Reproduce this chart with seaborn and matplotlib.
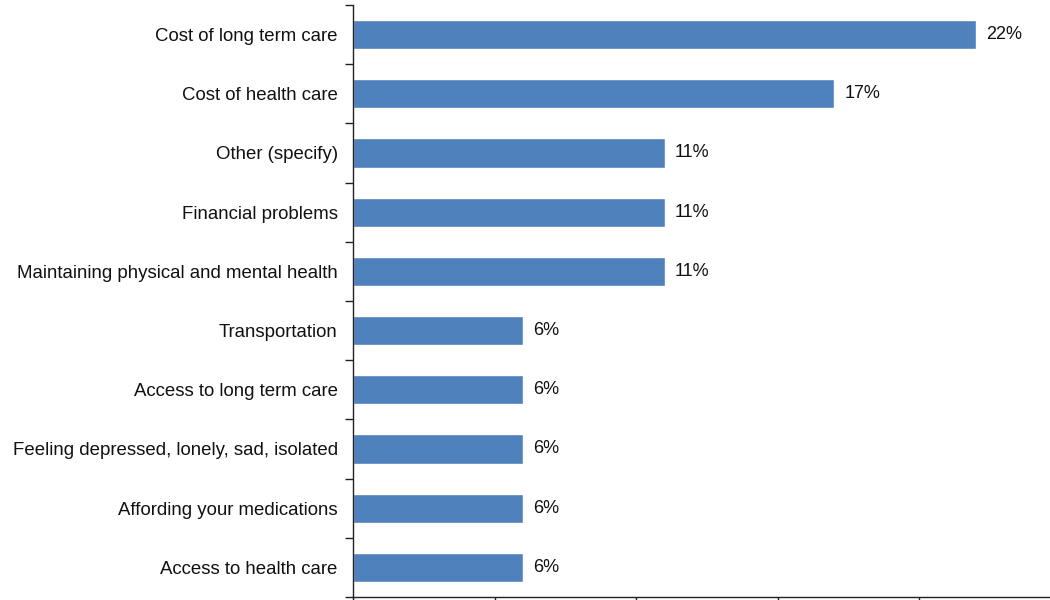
import matplotlib
matplotlib.use('Agg')
import matplotlib.pyplot as plt
import seaborn as sns
import pandas as pd
import numpy as np

categories = [
    'Cost of long term care',
    'Cost of health care',
    'Other (specify)',
    'Financial problems',
    'Maintaining physical and mental health',
    'Transportation',
    'Access to long term care',
    'Feeling depressed, lonely, sad, isolated',
    'Affording your medications',
    'Access to health care',
]
percents = [22, 17, 11, 11, 11, 6, 6, 6, 6, 6]
x_ticks = [0, 5, 10, 15, 20, 25]

sns.set_style('white')
plt.rcParams['font.family'] = ['Liberation Sans', 'DejaVu Sans']

df = pd.DataFrame({'category': categories, 'percent': percents})

fig = plt.figure(figsize=(10.5, 6), dpi=100)
ax = fig.add_axes([353 / 1050, 3 / 600, 708 / 1050, 592 / 600])

sns.barplot(data=df, x='percent', y='category', orient='h', color='#4F81BD',
            saturation=1, width=0.49, ax=ax)

for i, v in enumerate(percents):
    ax.text(v + 0.35, i, f'{v}%', va='center', ha='left', fontsize=13, color='#111111')

ax.set_xlim(0, 25)
ax.set_ylim(len(categories) - 0.5, -0.5)
ax.set_xticks(x_ticks)
ax.set_xticklabels([])
ax.set_xlabel('')
ax.set_ylabel('')

# category labels at centres, tick marks at boundaries
ax.set_yticks(np.arange(len(categories)))
ax.set_yticklabels(categories, fontsize=13.4, color='#111111')
ax.set_yticks(np.arange(len(categories) + 1) - 0.5, minor=True)
ax.tick_params(axis='y', which='major', left=False, length=0, pad=11)
ax.tick_params(axis='y', which='minor', left=True, length=6, width=1, color='#222222', direction='out')
ax.tick_params(axis='x', which='major', bottom=True, length=5, width=1, color='#222222', direction='out')

for s in ['top', 'right']:
    ax.spines[s].set_visible(False)
for s in ['left', 'bottom']:
    ax.spines[s].set_color('#222222')
    ax.spines[s].set_linewidth(1)

fig.savefig('out.png', dpi=100)
